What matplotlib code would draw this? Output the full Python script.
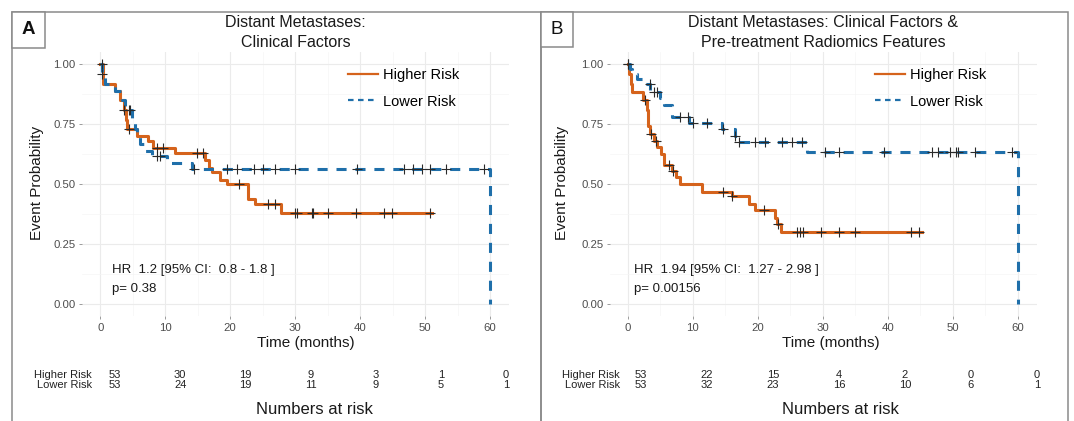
import numpy as np
import matplotlib
matplotlib.use('Agg')
import matplotlib.pyplot as plt
from matplotlib.patches import Rectangle
from matplotlib.lines import Line2D

plt.rcParams['font.family'] = ['Liberation Sans', 'DejaVu Sans']

# ---------------- data ----------------
# Panel A: clinical factors
a_high_t = [0, 0.5, 2.3, 3.1, 3.6, 3.9, 4.2, 5.6, 7.4, 8.2, 11.5, 16.2, 16.7, 17.2, 18.5, 19.5, 22.8, 23.8, 27.9, 51.0]
a_high_s = [1.0, 0.92, 0.89, 0.85, 0.81, 0.77, 0.73, 0.70, 0.68, 0.65, 0.63, 0.60, 0.57, 0.55, 0.52, 0.50, 0.44, 0.42, 0.38, 0.38]
a_high_cens = [0.3, 3.6, 4.4, 8.7, 9.7, 14.9, 15.9, 21.3, 25.9, 26.9, 30.0, 30.3, 32.6, 32.8, 35.1, 39.4, 43.7, 44.9, 50.8]

a_low_t = [0, 0.3, 0.8, 2.3, 3.3, 3.85, 4.9, 5.4, 5.6, 6.2, 6.7, 7.9, 10.3, 14.1, 60.0]
a_low_s = [1.0, 0.96, 0.92, 0.89, 0.85, 0.81, 0.77, 0.73, 0.70, 0.67, 0.64, 0.62, 0.59, 0.565, 0.0]
a_low_cens = [0.3, 4.4, 4.6, 8.7, 9.2, 14.4, 19.5, 21.0, 23.6, 25.1, 26.9, 30.0, 39.5, 46.7, 48.2, 49.5, 50.8, 53.3, 59.0]

# Panel B: clinical factors & pre-treatment radiomics
b_high_t = [0, 0.26, 0.5, 0.6, 2.4, 2.9, 3.1, 3.2, 3.4, 4.0, 4.5, 5.2, 5.6, 6.8, 7.5, 8.1, 11.4, 16.0, 18.6, 19.6, 22.6, 23.0, 23.6, 45.3]
b_high_s = [1.0, 0.96, 0.92, 0.885, 0.85, 0.81, 0.77, 0.745, 0.71, 0.68, 0.655, 0.625, 0.58, 0.555, 0.53, 0.50, 0.47, 0.45, 0.42, 0.395, 0.36, 0.335, 0.30, 0.30]
b_high_cens = [0.1, 2.7, 3.6, 4.3, 6.3, 7.0, 14.7, 16.0, 21.0, 23.2, 26.0, 26.5, 27.0, 29.8, 32.5, 35.0, 43.6, 44.8]

b_low_t = [0, 0.3, 0.7, 1.5, 2.5, 3.5, 5.0, 5.6, 6.8, 9.5, 14.5, 16.5, 17.1, 27.6, 60.0]
b_low_s = [1.0, 0.98, 0.96, 0.94, 0.92, 0.885, 0.86, 0.83, 0.78, 0.755, 0.73, 0.70, 0.675, 0.635, 0.0]
b_low_cens = [0.1, 3.4, 4.0, 4.5, 8.1, 9.3, 10.1, 12.2, 14.7, 16.5, 17.1, 19.6, 21.1, 23.7, 25.3, 26.8, 30.3, 32.5, 39.4, 46.8, 47.8, 49.6, 50.5, 50.9, 53.5, 59.2]

risk_times = [0, 10, 20, 30, 40, 50, 60]
a_risk_high = [53, 30, 19, 9, 3, 1, 0]
a_risk_low = [53, 24, 19, 11, 9, 5, 1]
b_risk_high = [53, 22, 15, 4, 2, 0, 0]
b_risk_low = [53, 32, 23, 16, 10, 6, 1]

titles = ["Distant Metastases:\nClinical Factors",
          "Distant Metastases: Clinical Factors &\nPre-treatment Radiomics Features"]
hr_texts = ["HR  1.2 [95% CI:  0.8 - 1.8 ]\np= 0.38",
            "HR  1.94 [95% CI:  1.27 - 2.98 ]\np= 0.00156"]
group_labels = ["Higher Risk", "Lower Risk"]
panel_letters = ["A", "B"]

# ---------------- styling ----------------
W, H = 1074, 421
ORANGE = '#D5631C'
BLUE = '#1F6FAA'
TICKC = '#4D4D4D'
fig = plt.figure(figsize=(W / 100, H / 100), dpi=100)


def px_axes(l, t, r, b):
    return fig.add_axes([l / W, 1 - b / H, (r - l) / W, (b - t) / H])


def surv_at(t_steps, s_steps, times):
    idx = np.searchsorted(np.asarray(t_steps), np.asarray(times), side='right') - 1
    return np.asarray(s_steps)[idx]


panels = [
    dict(ax=(82, 52.3, 509.5, 316.3), risk=(96.75, 370.5, 525.6, 390.5),
         box=(12, 541), lbox=(12, 12, 45, 48), lbold=True,
         hi=(a_high_t, a_high_s, a_high_cens), lo=(a_low_t, a_low_s, a_low_cens),
         rh=a_risk_high, rl=a_risk_low, hrx=1.85, xlab=306, nar=314, rlabx=-3.53,
         yl=37),
    dict(ax=(609.5, 52.3, 1037, 316.3), risk=(622.5, 370.5, 1056.8, 390.5),
         box=(541, 1067.5), lbox=(541, 12, 573, 47), lbold=False,
         hi=(b_high_t, b_high_s, b_high_cens), lo=(b_low_t, b_low_s, b_low_cens),
         rh=b_risk_high, rl=b_risk_low, hrx=1.0, xlab=831, nar=840, rlabx=-3.18,
         yl=562),
]

for i, p in enumerate(panels):
    l, t, r, b = p['ax']
    ax = px_axes(l, t, r, b)
    ax.set_xlim(-2.8, 63)
    ax.set_ylim(-0.05, 1.05)
    for sp in ax.spines.values():
        sp.set_visible(False)
    ax.set_xticks(risk_times)
    ax.set_xticks(np.arange(5, 60, 10), minor=True)
    ax.set_yticks([0, 0.25, 0.5, 0.75, 1.0])
    ax.set_yticks([0.125, 0.375, 0.625, 0.875], minor=True)
    ax.set_yticklabels(['%.2f' % v for v in [0, 0.25, 0.5, 0.75, 1.0]])
    ax.tick_params(which='major', length=2.5, width=0.6, color='#8C8C8C',
                   labelsize=8.2, labelcolor=TICKC, pad=2)
    ax.tick_params(which='minor', length=0)
    ax.grid(True, which='major', color='#EBEBEB', lw=0.8)
    ax.grid(True, which='minor', color='#F5F5F5', lw=0.5)
    ax.set_axisbelow(True)

    ht, hs, hc = p['hi']
    lt, ls, lc = p['lo']
    ax.step(ht, hs, where='post', color=ORANGE, lw=2.2, zorder=3)
    ax.plot(hc, surv_at(ht, hs, hc), ls='none', marker='+', ms=7, mew=0.8,
            color='#2A2A2A', zorder=5)
    ax.step(lt, ls, where='post', color=BLUE, lw=2.2, dashes=(3.3, 2.9), zorder=4)
    ax.plot(lc, surv_at(lt, ls, lc), ls='none', marker='+', ms=7, mew=0.8,
            color='#2A2A2A', zorder=5)

    ax.text(0.5, 1 + (52.3 - 32.5) / 264, titles[i], transform=ax.transAxes,
            ha='center', va='center', fontsize=11.5, linespacing=1.37, color='#1A1A1A')
    ax.text(p['hrx'], 0.104, hr_texts[i], ha='left', va='center', fontsize=9.5,
            linespacing=1.72, color='#1A1A1A')

    ax.set_xlabel('Time (months)', fontsize=11, color='#1A1A1A')
    ax.xaxis.set_label_coords((p['xlab'] - l) / (r - l), -(343 - b) / (b - t))
    ax.xaxis.label.set_va('center')
    ax.set_ylabel('Event Probability', fontsize=11, color='#1A1A1A')
    ax.yaxis.set_label_coords((p['yl'] - l) / (r - l), 0.505)
    ax.yaxis.label.set_va('center')

    handles = [Line2D([], [], color=ORANGE, lw=1.6),
               Line2D([], [], color=BLUE, lw=1.6, dashes=(2.5, 2.0))]
    ax.legend(handles, group_labels, loc='upper left', bbox_to_anchor=(0.622, 0.94),
              frameon=False, fontsize=10.5, handlelength=2.05, handletextpad=0.34,
              labelspacing=0.85, borderaxespad=0, borderpad=0)

    # numbers at risk table
    rl_, rt_, rr_, rb_ = p['risk']
    rax = px_axes(rl_, rt_, rr_, rb_)
    rax.set_xlim(-2.8, 63)
    rax.set_ylim(-0.5, 1.5)
    rax.axis('off')
    for row, vals in zip([1, 0], [p['rh'], p['rl']]):
        for xt, v in zip(risk_times, vals):
            rax.text(xt, row, str(v), ha='center', va='center', fontsize=8.0, color='#222222')
    for row, lab in zip([1, 0], group_labels):
        rax.text(p['rlabx'], row, lab, ha='right', va='center', fontsize=8.0,
                 color='#222222', clip_on=False)
    rax.text((p['nar'] - rl_) / (rr_ - rl_), -(410 - rb_) / (rb_ - rt_), 'Numbers at risk',
             transform=rax.transAxes, ha='center', va='center', fontsize=12, color='#1A1A1A')

    # panel border and letter box
    x0, x1 = p['box']
    fig.add_artist(Rectangle((x0 / W, -0.1), (x1 - x0) / W, 1.1 - 12 / H,
                             transform=fig.transFigure, fill=False, ec='#8A8A8A', lw=1.1))
    bx0, by0, bx1, by1 = p['lbox']
    fig.add_artist(Rectangle((bx0 / W, 1 - by1 / H), (bx1 - bx0) / W, (by1 - by0) / H,
                             transform=fig.transFigure, fc='white', ec='#8A8A8A', lw=1.1))
    fig.text((bx0 + bx1) / 2 / W, 1 - (by0 + by1) / 2 / H, panel_letters[i],
             ha='center', va='center', fontsize=13.5,
             fontweight='bold' if p['lbold'] else 'normal', color='#111111')

fig.savefig('out.png', dpi=100, facecolor='white')
